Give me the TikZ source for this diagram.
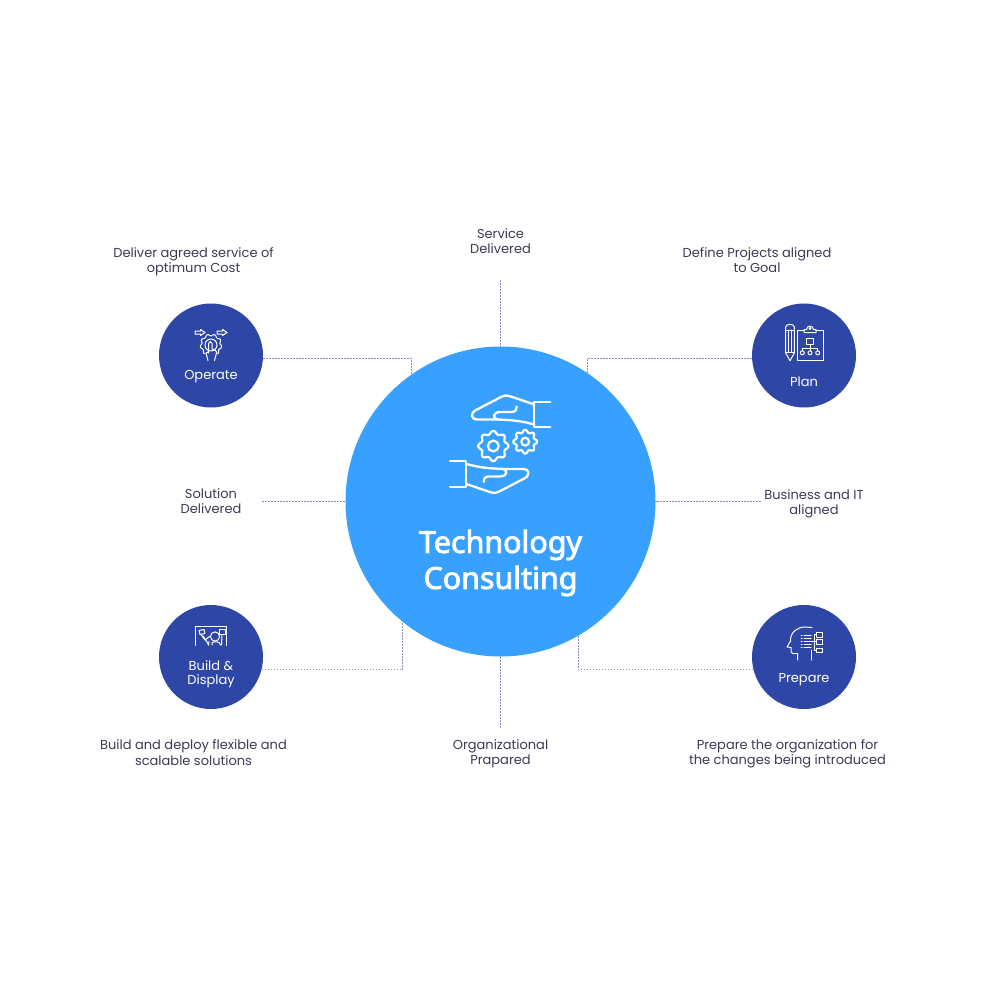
\documentclass[tikz,border=0pt]{standalone}
\usepackage{fontspec}
\setmainfont{Poppins}
\newfontfamily\titlefont[FakeBold=2.6]{Noto Sans}
\definecolor{hubblue}{HTML}{38A0FF}
\definecolor{navy}{HTML}{2E46A6}
\definecolor{inktext}{HTML}{3B3B55}
\definecolor{dotline}{HTML}{8E8EBE}
\newcommand{\geargl}[6]{% cx cy R a hole width
  \draw[white,line width=#6] plot[domain=0:360,samples=145,smooth] ({#1+(#3+#4*cos(8*\x))*cos(\x)},{#2+(#3+#4*cos(8*\x))*sin(\x)}) -- cycle;
  \draw[white,line width=#6] (#1,#2) circle[radius=#5];
}
\tikzset{
  hubnode/.style={circle,fill=hubblue,minimum size=155pt,inner sep=0pt,text=white},
  phase/.style={circle,fill=navy,minimum size=52pt,inner sep=0pt},
  phasetext/.style={text=white,font=\fontsize{6.5pt}{7.2pt}\selectfont,align=center,inner sep=0pt},
  note/.style={text=inktext,font=\fontsize{6.5pt}{7.6pt}\selectfont,align=center,inner sep=0pt},
  link/.style={dotline,line width=0.4pt,dash pattern=on 0.8pt off 0.7pt},
  hubicon/.style={white,line width=1.15pt,line cap=round,line join=round},
  mini/.style={white,line width=0.5pt,line cap=round,line join=round},
}
\begin{document}
\begin{tikzpicture}[x=0.5pt,y=-0.5pt]
\useasboundingbox[fill=white] (0,0) rectangle (1000,1000);

\node[hubnode] (hub) at (500.5,501.5) {};
\node[phase] (op) at (211,355.5) {};
\node[phase] (pl) at (804,355.5) {};
\node[phase] (bd) at (211,657) {};
\node[phase] (pr) at (804,657) {};

\node[text=white,font=\titlefont\fontsize{15.2pt}{18pt}\selectfont,align=center,inner sep=0pt] (title) at (500.5,563) {Technology\\Consulting};

\node[phasetext] (optext) at (211,376.5) {Operate};
\node[phasetext] (pltext) at (804,382) {Plan};
\node[phasetext] (bdtext) at (211,674) {Build \&\\Display};
\node[phasetext] (prtext) at (804,679.5) {Prepare};

\node[note] (n1) at (193.5,262) {Deliver agreed service of\\optimum Cost};
\node[note] (n2) at (500.5,241.5) {Service\\Delivered};
\node[note] (n3) at (757,260) {Define Projects aligned\\to Goal};
\node[note] (n4) at (211,501.5) {Solution\\Delivered};
\node[note] (n5) at (814,503.5) {Business and IT\\aligned};
\node[note] (n6) at (193.5,752.5) {Build and deploy flexible and\\scalable solutions};
\node[note] (n7) at (500.5,753.5) {Organizational\\Prapared};
\node[note] (n8) at (787.5,753.5) {Prepare the organization for\\the changes being introduced};

\coordinate (c2) at (500.5,280);
\coordinate (c4) at (262,501.5);
\coordinate (c5) at (761,501.5);
\coordinate (c7) at (500.5,728);
\draw[link] (op.-3) -| (hub.125);
\draw[link] (pl.183) -| (hub.56);
\draw[link] (bd.-14.5) -| (hub.231);
\draw[link] (pr.194.5) -| (hub.-60);
\draw[link] (c2) -- (hub.north);
\draw[link] (c7) -- (hub.south);
\draw[link] (c4) -- (hub.west);
\draw[link] (c5) -- (hub.east);

% central icon: upper hand, lower hand is the same turned by 180 degrees
\foreach \r in {0,180}{
\begin{scope}[rotate around={\r:(500.2,444.2)}]
\draw[hubicon] (550.3,401.7) -- (534.3,401.7) -- (534.3,427.3) -- (550.3,427.3);
\draw[hubicon] (534.3,404.5) -- (510,396.2) .. controls (506,395) and (504,395.5) .. (500,397.5) -- (476,410) .. controls (470,413) and (471,419.5) .. (477,419.5) -- (498,419.5) .. controls (492,419) and (493,412) .. (500,412) -- (511,412) .. controls (516,412) and (517,409) .. (516.7,406.5);
\draw[hubicon] (498,419.5) .. controls (510,420) and (520,420.5) .. (534.3,424.5);
\end{scope}
}
\geargl{493.3}{446}{13.6}{1.5}{5.4}{1.1pt}
\geargl{525.2}{441.7}{10.6}{1.3}{3.9}{1.1pt}

% Operate icon
\draw[mini] (195,331) -- (200.5,331) -- (200.5,329.5) -- (205,332.5) -- (200.5,335.5) -- (200.5,334) -- (195,334) -- cycle;
\draw[mini] (217,331) -- (222.5,331) -- (222.5,329.5) -- (227,332.5) -- (222.5,335.5) -- (222.5,334) -- (217,334) -- cycle;
\draw[mini] plot[domain=35:325,samples=80,smooth] ({211+(10+0.9*cos(9*\x))*cos(\x+90+0)},{345+(10+0.9*cos(9*\x))*sin(\x+90)});
\draw[mini] (211,345) circle[radius=6];
\draw[mini] (208,360.5) -- (206,353) -- (207.5,352) -- (208.5,353) -- (208.5,343.5) .. controls (208.5,341) and (212,341) .. (212,343.5) -- (212,349) -- (215,350) .. controls (217,351) and (217,353) .. (216,355) -- (214.5,360.5);

% Plan icon
\draw[mini] (785.7,327) .. controls (785.7,323.5) and (794.3,323.5) .. (794.3,327) -- (794.3,353) -- (790,360.7) -- (785.7,353) -- cycle;
\draw[mini] (785.7,330) -- (794.3,330) (785.7,352) -- (794.3,352) (788.5,330) -- (788.5,352) (791.5,330) -- (791.5,352);
\draw[mini] (804,330) -- (797.7,330) -- (797.7,360.7) -- (823.3,360.7) -- (823.3,330) -- (816,330);
\draw[mini] (804,332.5) -- (804,329.5) -- (806.5,329.5) .. controls (807,325) and (813,325) .. (813.5,329.5) -- (816,329.5) -- (816,332.5) -- cycle;
\draw[mini] (810,328.5) circle[radius=1];
\draw[mini] (806.8,338.3) rectangle (813.2,344.5);
\draw[mini] (810,344.5) -- (810,350.5) (802.3,350.8) -- (802.3,348.2) -- (817.7,348.2) -- (817.7,350.8);
\draw[mini] (802.3,352.8) circle[radius=2] (810,352.8) circle[radius=2] (817.7,352.8) circle[radius=2];

% Build icon
\draw[mini] (195,645.3) -- (195,626.3) -- (226.7,626.3) -- (226.7,645.3);
\draw[mini] (199,630.5) -- (204,629.5) -- (205,633.5) -- (200,634.5) -- cycle;
\draw[mini] (201,634.5) -- (205,640) -- (209.5,636.5);
\draw[mini] (203,636) -- (207,642) -- (208.5,645);
\draw[mini] (215,636.5) circle[radius=4.6];
\draw[mini] (208.5,645) -- (209,641.5) (212,645) -- (212,642.5) .. controls (216,641) and (220,641.5) .. (220.5,645);
\draw[mini] (219.5,629.5) -- (225,629.5) -- (225,634.5) -- (219.5,634.5) -- cycle;
\draw[mini] (222,634.5) -- (221.5,645);

% Prepare icon
\draw[mini] (797.5,660) -- (797.5,653.5) -- (793,653.5) .. controls (791,653.5) and (791,651.5) .. (791,650) -- (791,647.5) -- (787,647) -- (790.5,641) .. controls (790,632) and (798,627) .. (805,627) -- (812,627.5);
\draw[mini] (811,660) -- (811,650);
\foreach \yy in {635.5,638.5,641.5,644.5,647.5}{\draw[mini] (804,\yy) -- (811,\yy) (801,\yy) -- (802,\yy);}
\draw[mini] (816,632.5) rectangle (822,637);
\draw[mini] (816,639.5) rectangle (822,644);
\draw[mini] (816,648) rectangle (822,652.5);
\draw[mini] (816,634.7) -- (814,634.7) -- (814,650.2) -- (816,650.2) (811,641.8) -- (816,641.8);
\end{tikzpicture}
\end{document}
